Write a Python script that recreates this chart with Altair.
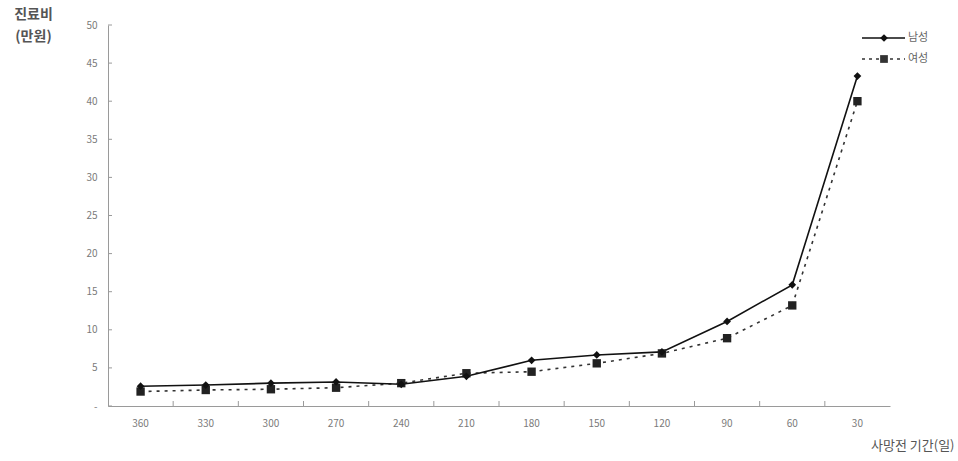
import altair as alt
import pandas as pd

# Days before death (x categories) and medical cost in 10,000 KRW
periods = ["360", "330", "300", "270", "240", "210", "180", "150", "120", "90", "60", "30"]
male = [2.6, 2.75, 3.0, 3.15, 2.85, 3.9, 6.0, 6.7, 7.1, 11.1, 15.9, 43.3]
female = [1.9, 2.1, 2.2, 2.4, 3.0, 4.3, 4.5, 5.6, 6.9, 8.9, 13.2, 40.0]
y_ticks = [0, 5, 10, 15, 20, 25, 30, 35, 40, 45, 50]

FONT = "Noto Sans CJK KR"
AXIS_GREY = "#9a9a9a"
LABEL_GREY = "#7a7a7a"

male_df = pd.DataFrame({"period": periods, "cost": male})
female_df = pd.DataFrame({"period": periods, "cost": female})
tick_df = pd.DataFrame({"v": y_ticks})
xtick_df = pd.DataFrame({"period": periods[1:]})

x_scale = alt.Scale(domain=periods, paddingInner=0, paddingOuter=0)
y_scale = alt.Scale(domain=[0, 50], nice=False)

x_axis = alt.Axis(
    title="사망전 기간(일)", labelAngle=0, ticks=False, domainColor=AXIS_GREY,
    labelColor=LABEL_GREY, labelFontSize=10, labelPadding=12, labelFont=FONT,
    labelOverlap=False,
    titleFont=FONT, titleFontSize=13, titleFontWeight="normal", titleColor="#555555",
    titleX=846, titleY=39, titleAlign="right", titleBaseline="middle", titleAnchor="start",
)
y_axis = alt.Axis(
    values=y_ticks, grid=False, ticks=False, domainColor=AXIS_GREY,
    labelColor=LABEL_GREY, labelFontSize=10, labelPadding=11, labelFont=FONT,
    labelOverlap=False,
    labelExpr="datum.value == 0 ? '-' : datum.label",
    title=["진료비", "(만원)"], titleAngle=0, titleX=-75, titleY=-18,
    titleAlign="center", titleBaseline="top", titleLineHeight=22,
    titleFont=FONT, titleFontSize=14, titleFontWeight="bold", titleColor="#555555",
)

x_enc = alt.X("period:N", sort=periods, scale=x_scale, axis=x_axis)
y_enc = alt.Y("cost:Q", scale=y_scale, axis=y_axis)

male_line = alt.Chart(male_df).mark_line(color="#111111", strokeWidth=1.6).encode(x=x_enc, y=y_enc)
male_pts = alt.Chart(male_df).mark_point(
    shape="diamond", filled=True, color="#111111", size=60, opacity=1
).encode(x=x_enc, y=y_enc)
female_line = alt.Chart(female_df).mark_line(
    color="#333333", strokeWidth=1.6, strokeDash=[3, 5]
).encode(x=x_enc, y=y_enc)
female_pts = alt.Chart(female_df).mark_point(
    shape="square", filled=True, color="#222222", size=70, opacity=1
).encode(x=x_enc, y=y_enc)

# Inward tick marks on both axes
y_tick_marks = alt.Chart(tick_df).mark_rule(color=AXIS_GREY).encode(
    y=alt.Y("v:Q", scale=y_scale, axis=y_axis), x=alt.value(0), x2=alt.value(4)
)
x_tick_marks = alt.Chart(xtick_df).mark_rule(color=AXIS_GREY).encode(
    x=alt.X("period:N", sort=periods, scale=x_scale, bandPosition=0, axis=x_axis),
    y=alt.value(381), y2=alt.value(376),
)

# Legend (top right)
leg_rows = [(13, "남성", "diamond", [1, 0], "#111111"), (34, "여성", "square", [3, 4], "#333333")]
legend_layers = []
for ly, name, shp, dash, col in leg_rows:
    d = pd.DataFrame({"name": [name]})
    legend_layers.append(
        alt.Chart(d).mark_rule(color=col, strokeWidth=1.4, strokeDash=dash).encode(
            x=alt.value(754), x2=alt.value(797), y=alt.value(ly)
        )
    )
    legend_layers.append(
        alt.Chart(d).mark_point(shape=shp, filled=True, color=col, size=60, opacity=1).encode(
            x=alt.value(776), y=alt.value(ly)
        )
    )
    legend_layers.append(
        alt.Chart(d).mark_text(align="left", baseline="middle", font=FONT, fontSize=11, color="#666666").encode(
            x=alt.value(800), y=alt.value(ly), text="name:N"
        )
    )

chart = alt.layer(
    female_line, male_line, female_pts, male_pts, y_tick_marks, x_tick_marks, *legend_layers
).properties(
    width=782, height=381,
    autosize=alt.AutoSizeParams(type="none"),
    padding={"left": 108, "top": 25, "right": 68, "bottom": 55},
    background="white",
).configure_view(stroke=None)

chart.save("out.html", embed_options={"renderer": "svg", "actions": False})
